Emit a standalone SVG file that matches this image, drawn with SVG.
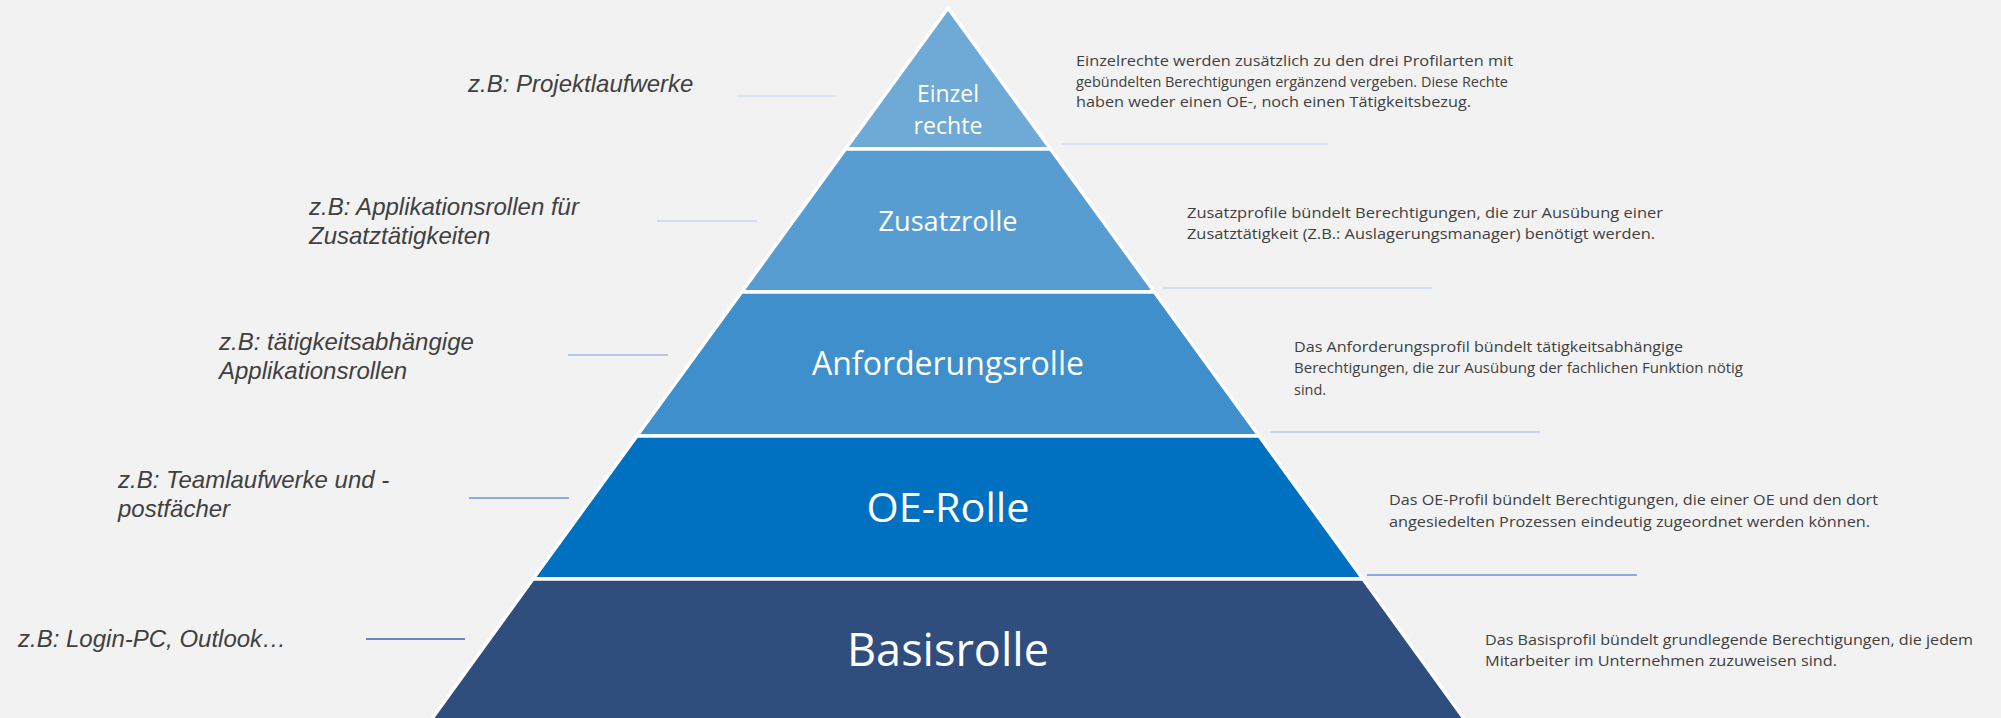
<svg xmlns="http://www.w3.org/2000/svg" width="2001" height="718" viewBox="0 0 2001 718">
<style>
.band{stroke:#FFFFFF;stroke-width:3.5;stroke-linejoin:miter}
.lbl{font-family:"Open Sans","Noto Sans",sans-serif;fill:#FFFFFF;text-anchor:middle}
.ex{font-family:"Liberation Sans",Arial,sans-serif;font-style:italic;font-size:24px;fill:#404040}
.desc{font-family:"Open Sans","Noto Sans",sans-serif;font-size:14.5px;fill:#404040}
.ln{stroke-width:2;fill:none}
</style>
<rect x="0" y="0" width="2001" height="718" fill="#F2F2F2"/>
<g id="connectors">
<line class="ln" x1="737" y1="96" x2="836" y2="96" stroke="#DAE3F3"/>
<line class="ln" x1="657" y1="221" x2="757" y2="221" stroke="#D0DDF2"/>
<line class="ln" x1="568" y1="355" x2="668" y2="355" stroke="#B4C7E7"/>
<line class="ln" x1="469" y1="498" x2="569" y2="498" stroke="#8FAADC"/>
<line class="ln" x1="366" y1="639" x2="465" y2="639" stroke="#6F88B9"/>
<line class="ln" x1="1062" y1="144" x2="1328" y2="144" stroke="#DAE3F3"/>
<line class="ln" x1="1163" y1="288" x2="1432" y2="288" stroke="#D0DDF2"/>
<line class="ln" x1="1270" y1="432" x2="1540" y2="432" stroke="#C5D4EE"/>
<line class="ln" x1="1367" y1="575" x2="1637" y2="575" stroke="#8FAADC"/>
</g>
<g id="einzelrechte">
<polygon class="band" points="948,8 1050.5,149 845.5,149" fill="#6FA9D6"/>
<text class="lbl" x="948" y="102" font-size="23" textLength="62" lengthAdjust="spacingAndGlyphs">Einzel</text>
<text class="lbl" x="948" y="134" font-size="23" textLength="69" lengthAdjust="spacingAndGlyphs">rechte</text>
</g>
<g id="zusatzrolle">
<polygon class="band" points="845.5,149 1050.5,149 1154.4,292 741.6,292" fill="#589DD1"/>
<text class="lbl" x="948" y="231" font-size="28" textLength="139" lengthAdjust="spacingAndGlyphs">Zusatzrolle</text>
</g>
<g id="anforderungsrolle">
<polygon class="band" points="741.6,292 1154.4,292 1259.1,436 636.9,436" fill="#3E8FCB"/>
<text class="lbl" x="948" y="375" font-size="32" textLength="272" lengthAdjust="spacingAndGlyphs">Anforderungsrolle</text>
</g>
<g id="oe-rolle">
<polygon class="band" points="636.9,436 1259.1,436 1363,579 533,579" fill="#0070C0"/>
<text class="lbl" x="948" y="522" font-size="41" textLength="163" lengthAdjust="spacingAndGlyphs">OE-Rolle</text>
</g>
<g id="basisrolle">
<polygon class="band" points="533,579 1363,579 1465,720 431,720" fill="#2F4E7E"/>
<text class="lbl" x="948" y="666" font-size="45" textLength="202" lengthAdjust="spacingAndGlyphs">Basisrolle</text>
</g>
<g id="beispiele">
<text class="ex" x="468" y="92">z.B: Projektlaufwerke</text>
<text class="ex" x="309" y="215">z.B: Applikationsrollen für</text>
<text class="ex" x="309" y="244">Zusatztätigkeiten</text>
<text class="ex" x="219" y="350">z.B: tätigkeitsabhängige</text>
<text class="ex" x="219" y="379">Applikationsrollen</text>
<text class="ex" x="118" y="488">z.B: Teamlaufwerke und -</text>
<text class="ex" x="118" y="517">postfächer</text>
<text class="ex" x="18" y="647">z.B: Login-PC, Outlook…</text>
</g>
<g id="beschreibungen">
<text class="desc" x="1076" y="66" textLength="437" lengthAdjust="spacingAndGlyphs">Einzelrechte werden zusätzlich zu den drei Profilarten mit</text>
<text class="desc" x="1076" y="87" textLength="432" lengthAdjust="spacingAndGlyphs">gebündelten Berechtigungen ergänzend vergeben. Diese Rechte</text>
<text class="desc" x="1076" y="107" textLength="395" lengthAdjust="spacingAndGlyphs">haben weder einen OE-, noch einen Tätigkeitsbezug.</text>
<text class="desc" x="1187" y="218" textLength="476" lengthAdjust="spacingAndGlyphs">Zusatzprofile bündelt Berechtigungen, die zur Ausübung einer</text>
<text class="desc" x="1187" y="239" textLength="468" lengthAdjust="spacingAndGlyphs">Zusatztätigkeit (Z.B.: Auslagerungsmanager) benötigt werden.</text>
<text class="desc" x="1294" y="352" textLength="389" lengthAdjust="spacingAndGlyphs">Das Anforderungsprofil bündelt tätigkeitsabhängige</text>
<text class="desc" x="1294" y="373" textLength="449" lengthAdjust="spacingAndGlyphs">Berechtigungen, die zur Ausübung der fachlichen Funktion nötig</text>
<text class="desc" x="1294" y="395">sind.</text>
<text class="desc" x="1389" y="505" textLength="489" lengthAdjust="spacingAndGlyphs">Das OE-Profil bündelt Berechtigungen, die einer OE und den dort</text>
<text class="desc" x="1389" y="527" textLength="481" lengthAdjust="spacingAndGlyphs">angesiedelten Prozessen eindeutig zugeordnet werden können.</text>
<text class="desc" x="1485" y="645" textLength="488" lengthAdjust="spacingAndGlyphs">Das Basisprofil bündelt grundlegende Berechtigungen, die jedem</text>
<text class="desc" x="1485" y="666" textLength="352" lengthAdjust="spacingAndGlyphs">Mitarbeiter im Unternehmen zuzuweisen sind.</text>
</g>
</svg>
